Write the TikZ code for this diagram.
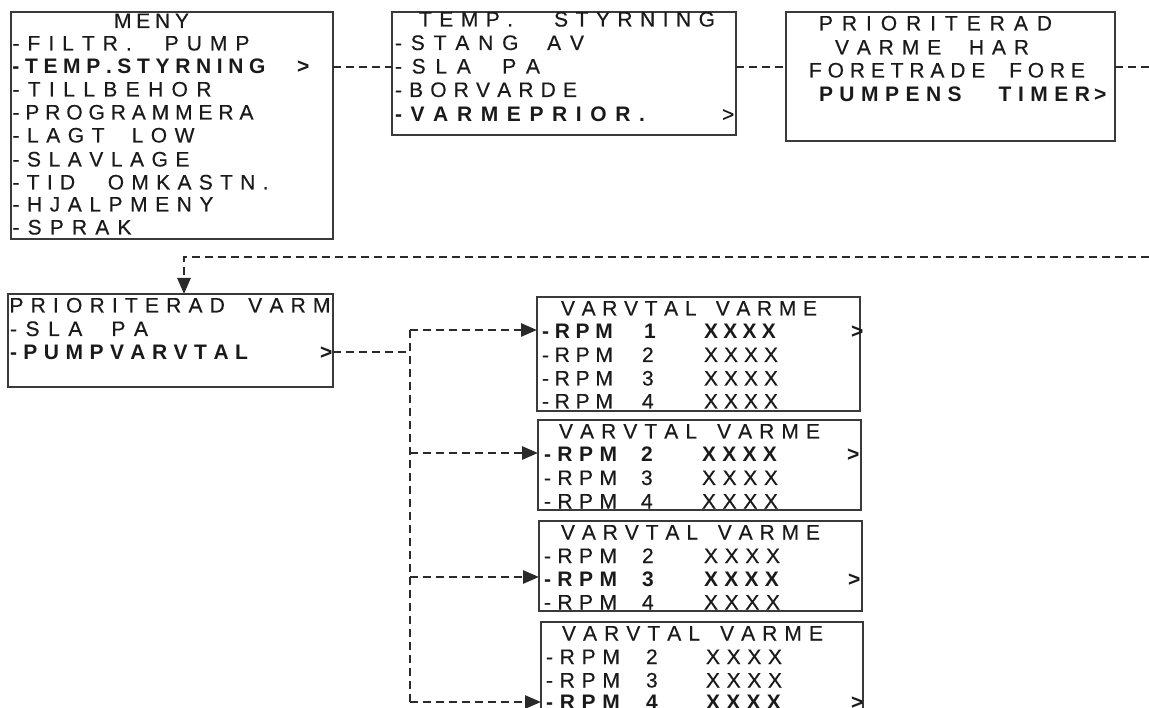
\documentclass[tikz,border=0pt]{standalone}
\usepackage{fontspec}
\newfontfamily\lcdfont[FakeBold=0.3]{Liberation Sans}
\newfontfamily\lcdboldfont{Liberation Sans Bold}
\usetikzlibrary{arrows.meta,calc}
\pgfdeclarelayer{bg}
\pgfsetlayers{bg,main}
\definecolor{ink}{HTML}{1A1A1A}
\definecolor{frame}{HTML}{3A3A3A}
\definecolor{hl}{HTML}{B4B4B4}
\definecolor{dashc}{HTML}{2A2A2A}
% \lcdline[word gap]{total width}{text}: spreads the characters evenly over the width
\ExplSyntaxOn
\bool_new:N \l__lcd_first_bool
\dim_new:N \l__lcd_space_dim
\NewDocumentCommand \lcdline { O{12pt} m m }
  {
    \dim_set:Nn \l__lcd_space_dim {#1}
    \hbox_to_wd:nn {#2}
      {
        \bool_set_true:N \l__lcd_first_bool
        \str_map_inline:nn {#3}
          {
            \bool_if:NF \l__lcd_first_bool { \hfil }
            \bool_set_false:N \l__lcd_first_bool
            \str_if_eq:nnTF {##1} { ~ }
              { \skip_horizontal:N \l__lcd_space_dim }
              { ##1 }
          }
      }
  }
\ExplSyntaxOff
\begin{document}
\begin{tikzpicture}[x=1pt,y=-1pt,
  screen/.style={draw=frame,line width=1.5pt,anchor=north west,inner sep=0pt,outer sep=0pt},
  lcd/.style={inner sep=0pt,outer sep=0pt,anchor=west,text height=15pt,text depth=0pt,text=ink,
    font=\lcdfont\fontsize{21}{23}\selectfont},
  lcdb/.style={lcd,font=\lcdboldfont\fontsize{21}{23}\selectfont},
  link/.style={draw=dashc,line width=2.8pt,dash pattern=on 8pt off 5pt},
  linkarrow/.style={link,-{Triangle[length=16pt,width=13pt]}}
]
\fill[white] (0,0) rectangle (1149,708);
\useasboundingbox (0,0) rectangle (1149,708);
\clip (0,0) rectangle (1149,708);

% ---------- screens ----------
\node[screen,minimum width=322pt,minimum height=227pt] (b1) at (11,12) {};
\node[screen,minimum width=344pt,minimum height=123pt] (b2) at (392,12) {};
\node[screen,minimum width=329pt,minimum height=129pt] (b3) at (786,12) {};
\node[screen,minimum width=325pt,minimum height=93pt]  (b4) at (8,294) {};
\node[screen,minimum width=323pt,minimum height=114pt] (b5) at (537,297) {};
\node[screen,minimum width=323pt,minimum height=90pt]  (b6) at (538,420) {};
\node[screen,minimum width=323pt,minimum height=90pt]  (b7) at (539,521) {};
\node[screen,minimum width=322pt,minimum height=100pt] (b8) at (541,622) {};

% ---------- highlight bars ----------
\begin{pgfonlayer}{bg}
\fill[hl] (b1.west |- 0,54)  rectangle (b1.east |- 0,77);
\fill[hl] (b2.west |- 0,103) rectangle (b2.east |- 0,126);
\fill[hl] (b3.west |- 0,82)  rectangle ([xshift=-2pt]b3.east |- 0,105);
\fill[hl] (b4.west |- 0,341) rectangle (b4.east |- 0,364);
\fill[hl] (b5.west |- 0,319) rectangle (b5.east |- 0,341);
\fill[hl] (b6.west |- 0,442) rectangle (b6.east |- 0,464);
\fill[hl] (b7.west |- 0,566) rectangle (b7.east |- 0,588);
\fill[hl] (b8.west |- 0,688) rectangle (b8.east |- 0,711);
\end{pgfonlayer}

% ---------- screen 1 ----------
\node[lcd]  (t1a) at (114,20.5) {\lcdline{75pt}{MENY}};
\node[lcd]  (t1b) at (12.5,43)  {\lcdline[17pt]{237pt}{-FILTR. PUMP}};
\node[lcdb] (t1c) at (12.5,66)  {\lcdline{253pt}{-TEMP.STYRNING}};
\node[lcdb] (t1g) at (297,66) {>};
\node[lcd]  (t1d) at (12.5,89)  {\lcdline{199pt}{-TILLBEHOR}};
\node[lcd]  (t1e) at (12.5,112) {\lcdline{241pt}{-PROGRAMMERA}};
\node[lcd]  (t1f) at (12.5,135) {\lcdline[12pt]{182pt}{-LAGT LOW}};
\node[lcd]  (t1h) at (12.5,159) {\lcdline{177pt}{-SLAVLAGE}};
\node[lcd]  (t1i) at (12.5,182) {\lcdline[18pt]{256pt}{-TID OMKASTN.}};
\node[lcd]  (t1j) at (12.5,204) {\lcdline{201pt}{-HJALPMENY}};
\node[lcd]  (t1k) at (12.5,227) {\lcdline{119pt}{-SPRAK}};

% ---------- screen 2 ----------
\node[lcd]  (t2a) at (419,19)   {\lcdline[26pt]{296pt}{TEMP. STYRNING}};
\node[lcd]  (t2b) at (395,42.5) {\lcdline[11pt]{189pt}{-STANG AV}};
\node[lcd]  (t2c) at (395,66)   {\lcdline[12pt]{145pt}{-SLA PA}};
\node[lcd]  (t2d) at (395,89.5) {\lcdline{182pt}{-BORVARDE}};
\node[lcdb] (t2e) at (395,114)  {\lcdline{250pt}{-VARMEPRIOR.}};
\node[lcd]  (t2f) at (722,114)  {>};

% ---------- screen 3 ----------
\node[lcd]  (t3a) at (819,23) {\lcdline{233pt}{PRIORITERAD}};
\node[lcd]  (t3b) at (835,47) {\lcdline[12pt]{194pt}{VARME HAR}};
\node[lcd]  (t3c) at (809,70) {\lcdline[12pt]{276pt}{FORETRADE FORE}};
\node[lcdb] (t3d) at (819,94) {\lcdline[24pt]{271pt}{PUMPENS TIMER}};
\node[lcdb] (t3e) at (1094,94) {>};

% ---------- screen 4 ----------
\node[lcd]  (t4a) at (9.5,305)   {\lcdline[9pt]{321pt}{PRIORITERAD VARM}};
\node[lcd]  (t4b) at (10,328.5) {\lcdline[12pt]{138pt}{-SLA PA}};
\node[lcdb] (t4c) at (10,352)   {\lcdline{238pt}{-PUMPVARVTAL}};
\node[lcdb] (t4d) at (320,352) {>};

% ---------- screen 5 ----------
\node[lcd]  (t5a) at (561,308)   {\lcdline[6pt]{256pt}{VARVTAL VARME}};
\node[lcdb] (t5b) at (542,331)   {\lcdline{71pt}{-RPM}};
\node[lcdb] (t5c) at (644,331)   {1};
\node[lcdb] (t5d) at (704,331)   {\lcdline{72pt}{XXXX}};
\node[lcdb] (t5e) at (851,331)   {>};
\node[lcd]  (t5f) at (542,354.5) {\lcdline{71pt}{-RPM}};
\node[lcd]  (t5g) at (642,354.5) {2};
\node[lcd]  (t5h) at (704,354.5) {\lcdline{74pt}{XXXX}};
\node[lcd]  (t5i) at (542,378)   {\lcdline{71pt}{-RPM}};
\node[lcd]  (t5j) at (642,378)   {3};
\node[lcd]  (t5k) at (704,378)   {\lcdline{74pt}{XXXX}};
\node[lcd]  (t5l) at (542,401)   {\lcdline{71pt}{-RPM}};
\node[lcd]  (t5m) at (642,401)   {4};
\node[lcd]  (t5n) at (704,401)   {\lcdline{74pt}{XXXX}};

% ---------- screen 6 ----------
\node[lcd]  (t6a) at (559,431)   {\lcdline[6pt]{261pt}{VARVTAL VARME}};
\node[lcdb] (t6b) at (544,454)   {\lcdline{73pt}{-RPM}};
\node[lcdb] (t6c) at (641,454)   {2};
\node[lcdb] (t6d) at (702,454)   {\lcdline{75pt}{XXXX}};
\node[lcdb] (t6e) at (847,454)   {>};
\node[lcd]  (t6f) at (544,477.5) {\lcdline{73pt}{-RPM}};
\node[lcd]  (t6g) at (641,477.5) {3};
\node[lcd]  (t6h) at (702,477.5) {\lcdline{76pt}{XXXX}};
\node[lcd]  (t6i) at (544,501)   {\lcdline{73pt}{-RPM}};
\node[lcd]  (t6j) at (641,501)   {4};
\node[lcd]  (t6k) at (702,501)   {\lcdline{76pt}{XXXX}};

% ---------- screen 7 ----------
\node[lcd]  (t7a) at (561,532)   {\lcdline[6pt]{259pt}{VARVTAL VARME}};
\node[lcd]  (t7b) at (544,555.5) {\lcdline{73pt}{-RPM}};
\node[lcd]  (t7c) at (642,555.5) {2};
\node[lcd]  (t7d) at (704,555.5) {\lcdline{76pt}{XXXX}};
\node[lcdb] (t7e) at (544,578.5) {\lcdline{73pt}{-RPM}};
\node[lcdb] (t7f) at (642,578.5) {3};
\node[lcdb] (t7g) at (704,578.5) {\lcdline{75pt}{XXXX}};
\node[lcdb] (t7h) at (848,578.5) {>};
\node[lcd]  (t7i) at (544,602)   {\lcdline{73pt}{-RPM}};
\node[lcd]  (t7j) at (642,602)   {4};
\node[lcd]  (t7k) at (704,602)   {\lcdline{76pt}{XXXX}};

% ---------- screen 8 ----------
\node[lcd]  (t8a) at (562,633)   {\lcdline[6pt]{261pt}{VARVTAL VARME}};
\node[lcd]  (t8b) at (546,656.5) {\lcdline{74pt}{-RPM}};
\node[lcd]  (t8c) at (646,656.5) {2};
\node[lcd]  (t8d) at (706,656.5) {\lcdline{76pt}{XXXX}};
\node[lcd]  (t8e) at (546,680)   {\lcdline{74pt}{-RPM}};
\node[lcd]  (t8f) at (646,680)   {3};
\node[lcd]  (t8g) at (706,680)   {\lcdline{76pt}{XXXX}};
\node[lcdb] (t8h) at (546,702)   {\lcdline{74pt}{-RPM}};
\node[lcdb] (t8i) at (646,702)   {4};
\node[lcdb] (t8j) at (706,702)   {\lcdline{75pt}{XXXX}};
\node[lcdb] (t8k) at (851,702)   {>};

% ---------- connectors ----------
\coordinate (out1) at (1149,67);
\coordinate (in2)  at (1149,257);
\coordinate (vtop) at (410,330);
\coordinate (vjoin) at (410,352);
\coordinate (v6) at (410,453);
\coordinate (v7) at (410,577);
\coordinate (vbot) at (410,702);

\draw[link] (b1.east |- 0,67) -- (b2.west |- 0,67);
\draw[link] (b2.east |- 0,67) -- (b3.west |- 0,67);
\draw[link] (b3.east |- 0,67) -- (out1);
\draw[linkarrow] (in2) -| ($(b4.north west)+(176,0)$);
\draw[link] (b4.east |- vjoin) -- (vjoin);
\draw[link] (vtop) -- (vbot);
\draw[linkarrow] (vtop) -- (b5.west |- vtop);
\draw[linkarrow] (v6) -- (b6.west |- v6);
\draw[linkarrow] (v7) -- (b7.west |- v7);
\draw[linkarrow] (vbot) -- (b8.west |- vbot);
\end{tikzpicture}
\end{document}
